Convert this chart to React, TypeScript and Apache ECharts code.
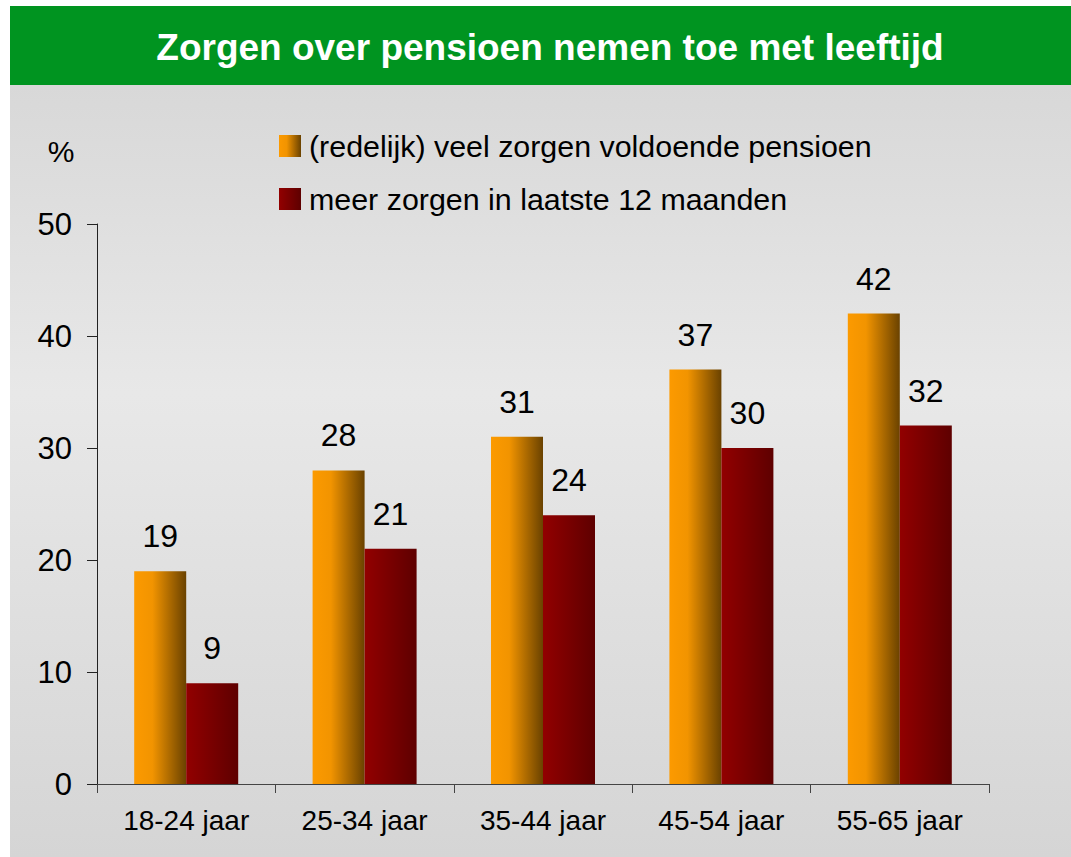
import React, { useEffect, useRef } from "react";
import * as echarts from "echarts";

const categories = ["18-24 jaar", "25-34 jaar", "35-44 jaar", "45-54 jaar", "55-65 jaar"];
const seriesNames = ["(redelijk) veel zorgen voldoende pensioen", "meer zorgen in laatste 12 maanden"];
const veelZorgen = [19, 28, 31, 37, 42];
const meerZorgen = [9, 21, 24, 30, 32];
const titleText = "Zorgen over pensioen nemen toe met leeftijd";

const FONT = "'Liberation Sans', Arial, Helvetica, sans-serif";

export default function App() {
  const ref = useRef<HTMLDivElement>(null);
  useEffect(() => {
    if (!ref.current) return;
    const chart = echarts.init(ref.current, null, { renderer: "svg" });
    const orange = new echarts.graphic.LinearGradient(0, 0, 1, 0, [
      { offset: 0, color: "#fc9a00" },
      { offset: 0.35, color: "#f29400" },
      { offset: 1, color: "#6a4200" },
    ]);
    const red = new echarts.graphic.LinearGradient(0, 0, 1, 0, [
      { offset: 0, color: "#920000" },
      { offset: 1, color: "#5e0000" },
    ]);
    chart.setOption({
      animation: false,
      backgroundColor: "#ffffff",
      textStyle: { fontFamily: FONT },
      graphic: [
        {
          type: "rect",
          z: -10,
          silent: true,
          shape: { x: 10, y: 85, width: 1061, height: 772 },
          style: {
            fill: new echarts.graphic.LinearGradient(0, 0, 0, 1, [
              { offset: 0, color: "#d8d8d8" },
              { offset: 0.4, color: "#e8e8e8" },
              { offset: 1, color: "#d5d5d5" },
            ]),
          },
        },
        {
          type: "rect",
          z: -10,
          silent: true,
          shape: { x: 10, y: 6, width: 1061, height: 79 },
          style: { fill: "#009420" },
        },
        {
          type: "text",
          x: 550,
          y: 47,
          style: {
            text: titleText,
            fill: "#ffffff",
            font: `bold 37px ${FONT}`,
            align: "center",
            verticalAlign: "middle",
          },
        },
        {
          type: "text",
          x: 61,
          y: 151,
          style: {
            text: "%",
            fill: "#000000",
            font: `30px ${FONT}`,
            align: "center",
            verticalAlign: "middle",
          },
        },
      ],
      legend: {
        orient: "vertical",
        left: 274,
        top: 126,
        itemWidth: 22,
        itemHeight: 22,
        itemGap: 23,
        icon: "rect",
        textStyle: { fontSize: 30.4, color: "#000", fontFamily: FONT, lineHeight: 22, padding: [0, 0, 0, 3] },
        data: seriesNames,
      },
      grid: { left: 97, right: 82, top: 224, bottom: 73, containLabel: false },
      xAxis: {
        type: "category",
        data: categories,
        axisLine: { lineStyle: { color: "#444", width: 1 } },
        axisTick: { show: true, length: 9, lineStyle: { color: "#444" } },
        axisLabel: { fontSize: 28, color: "#000", margin: 22, fontFamily: FONT },
      },
      yAxis: {
        type: "value",
        min: 0,
        max: 50,
        interval: 10,
        splitLine: { show: false },
        axisLine: { show: true, lineStyle: { color: "#222", width: 1 } },
        axisTick: { show: true, length: 10, lineStyle: { color: "#222" } },
        axisLabel: { fontSize: 31, color: "#000", margin: 25, fontFamily: FONT },
      },
      series: [
        {
          name: seriesNames[0],
          type: "bar",
          data: veelZorgen,
          barWidth: 52,
          barGap: "0%",
          itemStyle: { color: orange },
          label: { show: true, position: "top", distance: 19, fontSize: 32, color: "#000", fontFamily: FONT },
        },
        {
          name: seriesNames[1],
          type: "bar",
          data: meerZorgen,
          barWidth: 52,
          barGap: "0%",
          itemStyle: { color: red },
          label: { show: true, position: "top", distance: 19, fontSize: 32, color: "#000", fontFamily: FONT },
        },
      ],
    });
    return () => chart.dispose();
  }, []);
  return <div ref={ref} style={{ position: "fixed", left: 0, top: 0, width: 1071, height: 857 }} />;
}
